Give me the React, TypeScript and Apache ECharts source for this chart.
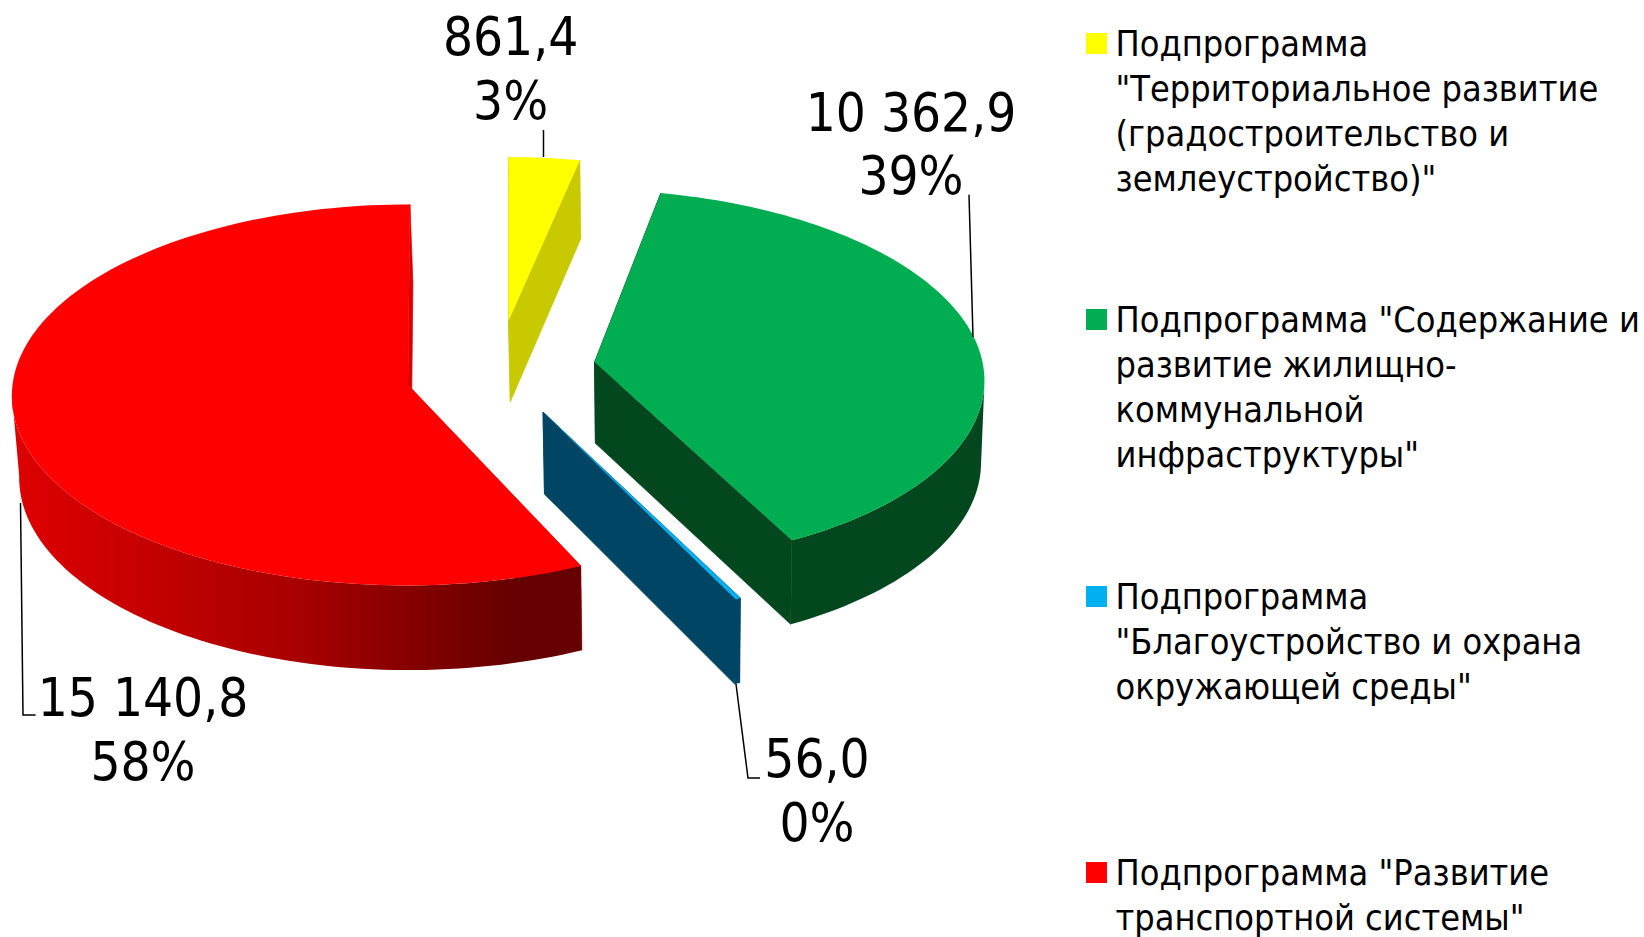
import React, { useEffect, useRef } from "react";
import * as echarts from "echarts";

const categories = [
  'Подпрограмма\n"Территориальное развитие\n(градостроительство и\nземлеустройство)"',
  'Подпрограмма "Содержание и\nразвитие жилищно-\nкоммунальной\nинфраструктуры"',
  'Подпрограмма\n"Благоустройство и охрана\nокружающей среды"',
  'Подпрограмма "Развитие\nтранспортной системы"',
];
const values = [861.4, 10362.9, 56.0, 15140.8];
const percentLabels = ["3%", "39%", "0%", "58%"];

const FONT = "'DejaVu Sans Condensed', 'DejaVu Sans', sans-serif";
const LABEL_SIZE = 52.6;
const LEGEND_SIZE = 35.8;

const topColors = ["#FFFF00", "#00AD50", "#00B0F0", "#FF0000"];
const sideColors = ["#C9C900", "#03471F", "#004664", "#D80000"];

// Per-slice projection of the exploded, tilted pie
const slices = [
  { ax: 508.5, ay: 321, rx: 378, ry: 177, p: 0.08, s: 0, nudge: 0 },
  { ax: 594.5, ay: 362, rx: 388, ry: 186, p: 0.08, s: 96, nudge: 0 },
  { ax: 543, ay: 412, rx: 396, ry: 194, p: 0.08, s: 45, nudge: 0 },
  { ax: 408, ay: 385, rx: 395.5, ry: 190, p: 0.052, s: -40, nudge: 1.4 },
];
const VX = 677;
const VF = 0.989;
const labelPos = [
  { x: 510.6, y: [56, 119.7] },
  { x: 911, y: [132, 195] },
  { x: 817, y: [778, 842] },
  { x: 143, y: [717, 781] },
];
const leaders = [
  [[543.5, 130], [543.5, 157]],
  [[969, 194.7], [973, 337]],
  [[736, 684], [748, 778], [760, 778]],
  [[20.5, 503], [23, 715], [35.6, 715]],
];
const legendTop = [33, 309, 586, 862];

function fmt(v: number) {
  const [a, b] = v.toFixed(1).split(".");
  return a.replace(/\B(?=(\d{3})+$)/g, " ") + "," + b;
}

function App() {
  const ref = useRef<HTMLDivElement>(null);
  useEffect(() => {
    document.body.style.margin = "0";
    const chart = echarts.init(ref.current!, null, { renderer: "svg" });

    const renderItem = (params: any, api: any) => {
      const i = params.dataIndex;
      const total = values.reduce((a, b) => a + b, 0);
      let cum = 0;
      for (let k = 0; k < i; k++) cum += values[k];
      const L = slices[i];
      const a0 = (cum / total) * 360 + L.nudge;
      const a1 = ((cum + api.value(0)) / total) * 360;

      const top = (deg: number) => {
        const t = (deg * Math.PI) / 180;
        const X = Math.sin(t);
        const Y = -Math.cos(t);
        const den = 1 - L.p * Y;
        return [L.ax + (L.rx * X) / den + L.s * (1 / den - 1), L.ay + (L.ry * Y) / den];
      };
      const down = (q: number[]) => [VX + (q[0] - VX) * VF, q[1] + 81.5 + 0.015 * (q[1] - 375)];

      const n = Math.max(6, Math.ceil((a1 - a0) / 1.5));
      const rim: number[][] = [];
      for (let k = 0; k <= n; k++) rim.push(top(a0 + ((a1 - a0) * k) / n));
      const apex = [L.ax, L.ay];
      const apexB = down(apex);
      const rimB = rim.map(down);

      const poly = (points: number[][], fill: any, seam = false) => ({
        type: "polygon",
        shape: { points },
        style: seam ? { fill, stroke: fill, lineWidth: 0.7 } : { fill, stroke: "none" },
        silent: true,
      });

      const side =
        i === 3
          ? new echarts.graphic.LinearGradient(
              12,
              0,
              582,
              0,
              [
                { offset: 0, color: "#DE0000" },
                { offset: 0.5, color: "#A80000" },
                { offset: 0.88, color: "#660000" },
                { offset: 1, color: "#660000" },
              ],
              true
            )
          : sideColors[i];

      // Only the front part of the rim is visible: from the silhouette extreme to the near cut.
      let ex = 0;
      rim.forEach((q, k) => {
        if (i === 3 ? q[0] < rim[ex][0] : q[0] > rim[ex][0]) ex = k;
      });
      const from = i === 3 ? 0 : ex;
      const to = i === 3 ? ex : n;
      const bandTop = rim.slice(from, to + 1);
      const bandBottom = rimB.slice(from, to + 1).reverse();

      const children: any[] = [
        poly([apex, rim[0], rimB[0], apexB], sideColors[i], true),
        poly([apex, rim[n], rimB[n], apexB], sideColors[i], true),
      ];
      if (bandTop.length > 1) children.push(poly([...bandTop, ...bandBottom], side));
      children.push(poly([apex, ...rim], topColors[i]));
      children.push({
        type: "polyline",
        shape: { points: leaders[i] },
        style: { stroke: "#000", lineWidth: 1.5, fill: "none" },
        silent: true,
      });
      [fmt(api.value(0)), percentLabels[i]].forEach((text, k) => {
        children.push({
          type: "text",
          silent: true,
          style: {
            text,
            x: labelPos[i].x,
            y: labelPos[i].y[k] - LABEL_SIZE * 0.365,
            fill: "#000",
            font: `${LABEL_SIZE}px ${FONT}`,
            align: "center",
            verticalAlign: "middle",
          },
        });
      });
      return { type: "group", children };
    };

    const legend: any[] = [];
    categories.forEach((c, i) => {
      legend.push({
        type: "rect",
        shape: { x: 1086, y: legendTop[i], width: 21, height: 21 },
        style: { fill: topColors[i] },
        silent: true,
      });
      c.split("\n").forEach((line, k) => {
        legend.push({
          type: "text",
          silent: true,
          style: {
            text: line,
            x: 1115.5,
            y: legendTop[i] + 23.5 + k * 44.9 - LEGEND_SIZE * 0.365,
            fill: "#000",
            font: `${LEGEND_SIZE}px ${FONT}`,
            align: "left",
            verticalAlign: "middle",
          },
        });
      });
    });

    chart.setOption({
      animation: false,
      backgroundColor: "#fff",
      graphic: legend,
      series: [
        {
          type: "custom",
          coordinateSystem: "none",
          renderItem,
          data: values.map((v, i) => ({ name: categories[i], value: [v] })),
          silent: true,
        },
      ],
    });
    return () => chart.dispose();
  }, []);
  return <div ref={ref} style={{ position: "fixed", left: 0, top: 0, width: 1644, height: 937 }} />;
}

export default App;
